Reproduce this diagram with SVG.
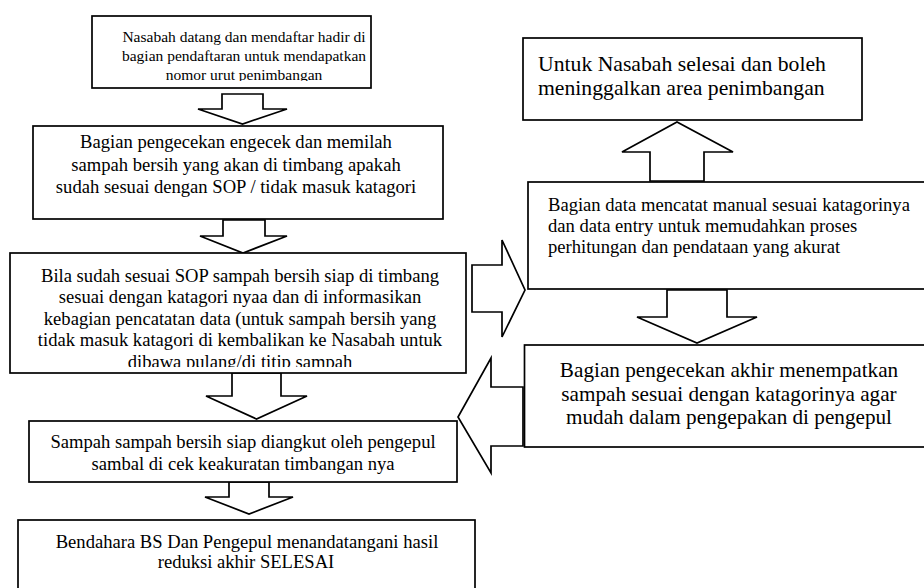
<svg xmlns="http://www.w3.org/2000/svg" width="924" height="588" viewBox="0 0 924 588">
<style>
  .box { fill: #ffffff; stroke: #000000; stroke-width: 1.7; }
  .arr { fill: #ffffff; stroke: #000000; stroke-width: 1.7; stroke-linejoin: miter; }
  text { font-family: "Liberation Serif", "Times New Roman", serif; fill: #000000; }
  .c { text-anchor: middle; }
  .s { font-size: 15.5px; }
  .m { font-size: 18.6px; }
  .l { font-size: 21.2px; }
  .xl { font-size: 21.7px; }
</style>
<defs>
  <clipPath id="clip1"><rect x="92" y="16" width="279" height="65"/></clipPath>
  <clipPath id="clip3"><rect x="10" y="253" width="456" height="114"/></clipPath>
  <clipPath id="clip6"><rect x="29" y="421" width="428" height="53"/></clipPath>
</defs>
<rect width="924" height="588" fill="#ffffff"/>

<g id="connectors">
  <polygon class="arr" points="222,94 263,94 263,109 287,109 242.5,124 198,109 222,109"/>
  <polygon class="arr" points="223,220 265,220 265,236 287,236 243,253 200,236 223,236"/>
  <polygon class="arr" points="232,373 281,373 281,396 307,396 256.5,419 206,396 232,396"/>
  <polygon class="arr" points="229,482 269,482 269,497 293,497 249,514 205,497 229,497"/>
  <polygon class="arr" points="472,265 502,265 502,240 525,290 502,337 502,312 472,312"/>
  <polygon class="arr" points="523,387 491,387 491,358 458,417 491,473 491,446 523,446"/>
  <polygon class="arr" points="650,181 650,152 622,152 677,122 733,152 704,152 704,181"/>
  <polygon class="arr" points="667,290 727,290 727,317 757,317 697,343 637,317 667,317"/>
</g>

<g id="node-daftar">
  <rect class="box" x="92" y="16" width="279" height="72"/>
  <g clip-path="url(#clip1)">
    <text class="s c" x="244" y="42">Nasabah datang dan mendaftar hadir di</text>
    <text class="s c" x="244" y="61">bagian pendaftaran untuk mendapatkan</text>
    <text class="s c" x="244" y="80">nomor urut penimbangan</text>
  </g>
</g>

<g id="node-cek">
  <rect class="box" x="33" y="126" width="410" height="93"/>
  <text class="m c" x="236" y="148">Bagian pengecekan engecek dan memilah</text>
  <text class="m c" x="236" y="171">sampah bersih yang akan di timbang apakah</text>
  <text class="m c" x="236" y="193">sudah sesuai dengan SOP / tidak masuk katagori</text>
</g>

<g id="node-timbang">
  <rect class="box" x="10" y="253" width="456" height="120"/>
  <g clip-path="url(#clip3)">
    <text class="m c" x="240" y="281.5">Bila sudah sesuai SOP sampah bersih siap di timbang</text>
    <text class="m c" x="240" y="303">sesuai dengan katagori nyaa dan di informasikan</text>
    <text class="m c" x="240" y="324.5">kebagian pencatatan data (untuk sampah bersih yang</text>
    <text class="m c" x="240" y="346">tidak masuk katagori di kembalikan ke Nasabah untuk</text>
    <text class="m c" x="240" y="367.5">dibawa pulang/di titip sampah</text>
  </g>
</g>

<g id="node-angkut">
  <rect class="box" x="29" y="421" width="428" height="61"/>
  <g clip-path="url(#clip6)">
    <text class="m c" x="243" y="448">Sampah sampah bersih siap diangkut oleh pengepul</text>
    <text class="m c" x="243" y="470">sambal di cek keakuratan timbangan nya</text>
  </g>
</g>

<g id="node-selesai-bs">
  <rect class="box" x="18" y="520" width="457" height="90"/>
  <text class="m c" x="247" y="548">Bendahara BS Dan Pengepul menandatangani hasil</text>
  <text class="m c" x="246" y="568">reduksi akhir SELESAI</text>
</g>

<g id="node-nasabah-selesai">
  <rect class="box" x="523" y="38" width="339" height="82"/>
  <text class="xl" x="538" y="71">Untuk Nasabah selesai dan boleh</text>
  <text class="xl" x="538" y="95">meninggalkan area penimbangan</text>
</g>

<g id="node-data">
  <rect class="box" x="528" y="182" width="410" height="107"/>
  <text class="m" x="548" y="211">Bagian data mencatat manual sesuai katagorinya</text>
  <text class="m" x="548" y="232">dan data entry untuk memudahkan proses</text>
  <text class="m" x="548" y="253">perhitungan dan pendataan yang akurat</text>
</g>

<g id="node-cek-akhir">
  <rect class="box" x="524.5" y="345" width="410" height="102"/>
  <text class="l c" x="729" y="377">Bagian pengecekan akhir menempatkan</text>
  <text class="l c" x="729" y="401">sampah sesuai dengan katagorinya agar</text>
  <text class="l c" x="729" y="424">mudah dalam pengepakan di pengepul</text>
</g>
</svg>
